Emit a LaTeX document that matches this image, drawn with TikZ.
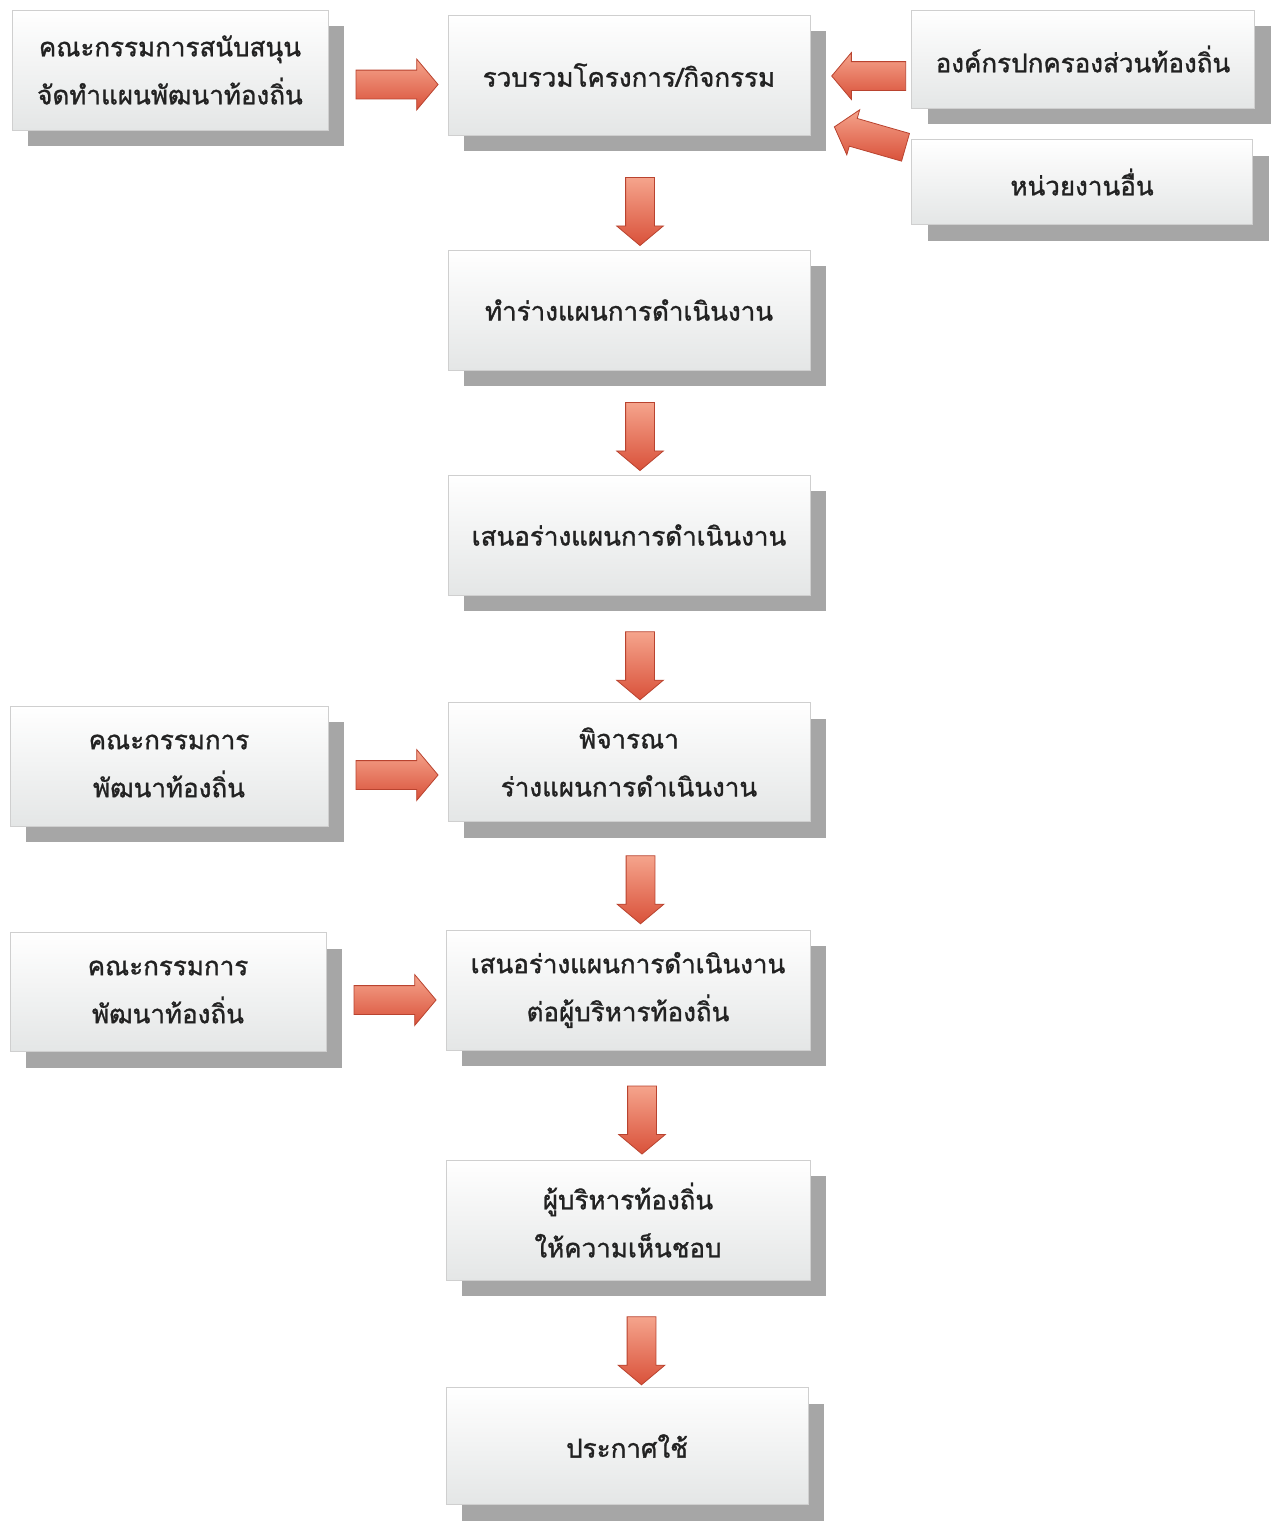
\documentclass[tikz,border=0pt]{standalone}
\usepackage{fontspec}
\newfontfamily\thaifont[Script=Thai,FakeBold=1.2]{Loma}
\usetikzlibrary{shapes.arrows,shadows}
\definecolor{boxedge}{HTML}{CFCFCF}
\definecolor{boxbot}{HTML}{E4E6E6}
\definecolor{shadowgray}{HTML}{A6A6A6}
\definecolor{textcol}{HTML}{222222}
\definecolor{arrowlight}{HTML}{F5A48C}
\definecolor{arrowdark}{HTML}{D9513A}
\definecolor{arrowedge}{HTML}{B9432F}
\begin{document}
\begin{tikzpicture}[x=0.5pt,y=-0.5pt,
  box/.style={draw=boxedge, line width=0.5pt, top color=white, bottom color=boxbot,
    align=center, font=\thaifont\fontsize{13}{24}\selectfont, text=textcol, inner sep=0pt,
    drop shadow={shadow xshift=8pt, shadow yshift=-8pt, fill=shadowgray, opacity=1}},
  blockarrow/.style={single arrow, draw=arrowedge, line width=0.4pt,
    top color=arrowlight, bottom color=arrowdark, inner xsep=0pt, inner ysep=7pt,
    single arrow head extend=4.5pt, single arrow tip angle=100},
  darrow/.style={blockarrow, rotate=-90, minimum height=34pt},
  rarrow/.style={blockarrow, minimum height=41pt, single arrow head extend=5.5pt},
  larrow/.style={blockarrow, minimum height=37pt}
]
\fill[white] (0,0) rectangle (1274,1521);
\useasboundingbox (0,0) rectangle (1274,1521);

\node[box, minimum width=158pt, minimum height=60pt] (L1) at (170,70) {คณะกรรมการสนับสนุน\\จัดทำแผนพัฒนาท้องถิ่น};
\node[box, minimum width=181pt, minimum height=60pt] (M1) at (629,75) {รวบรวมโครงการ/กิจกรรม};
\node[box, minimum width=171.5pt, minimum height=49pt] (R1) at (1083,59) {องค์กรปกครองส่วนท้องถิ่น};
\node[box, minimum width=170.5pt, minimum height=42.5pt] (R2) at (1082,182) {หน่วยงานอื่น};
\node[box, minimum width=181pt, minimum height=60pt] (M2) at (629,310) {ทำร่างแผนการดำเนินงาน};
\node[box, minimum width=181pt, minimum height=60pt] (M3) at (629,535) {เสนอร่างแผนการดำเนินงาน};
\node[box, minimum width=181pt, minimum height=59.5pt] (M4) at (629,762) {พิจารณา\\ร่างแผนการดำเนินงาน};
\node[box, minimum width=159pt, minimum height=60pt] (L2) at (169,766) {คณะกรรมการ\\พัฒนาท้องถิ่น};
\node[box, minimum width=182pt, minimum height=60pt] (M5) at (628,990) {เสนอร่างแผนการดำเนินงาน\\ต่อผู้บริหารท้องถิ่น};
\node[box, minimum width=158pt, minimum height=59.5pt] (L3) at (168,992) {คณะกรรมการ\\พัฒนาท้องถิ่น};
\node[box, minimum width=182pt, minimum height=60pt] (M6) at (628,1220) {ผู้บริหารท้องถิ่น\\ให้ความเห็นชอบ};
\node[box, minimum width=181pt, minimum height=58.5pt] (M7) at (627,1446) {ประกาศใช้};

% down arrows
\path (M1.south) -- (M2.north) node[midway, xshift=5.5pt, yshift=-6.5pt, darrow] (a1) {};
\path (M2.south) -- (M3.north) node[midway, xshift=5.5pt, yshift=-4pt, darrow] (a2) {};
\path (M3.south) -- (M4.north) node[midway, xshift=5.5pt, yshift=-5.5pt, darrow] (a3) {};
\path (M4.south) -- (M5.north) node[midway, xshift=6pt, yshift=-4pt, darrow] (a4) {};
\path (M5.south) -- (M6.north) node[midway, xshift=7pt, yshift=-4.5pt, darrow] (a5) {};
\path (M6.south) -- (M7.north) node[midway, xshift=7pt, yshift=-5.5pt, darrow] (a6) {};

% right arrows
\path (L1.east) -- (M1.west) node[midway, xshift=1.5pt, yshift=-6pt, rarrow] (b1) {};
\path (L2.east) -- (M4.west) node[midway, xshift=1.5pt, yshift=-5.5pt, rarrow] (b2) {};
\path (L3.east) -- (M5.west) node[midway, xshift=1.5pt, yshift=-4.5pt, rarrow] (b3) {};

% left arrows
\path (R1.west) -- (M1.east) node[midway, xshift=7pt, yshift=-4.5pt, larrow, rotate=180] (c1) {};
\path (R2.west) -- (M1.south east) node[midway, xshift=7.5pt, yshift=10pt, larrow, rotate=164] (c2) {};
\end{tikzpicture}
\end{document}
